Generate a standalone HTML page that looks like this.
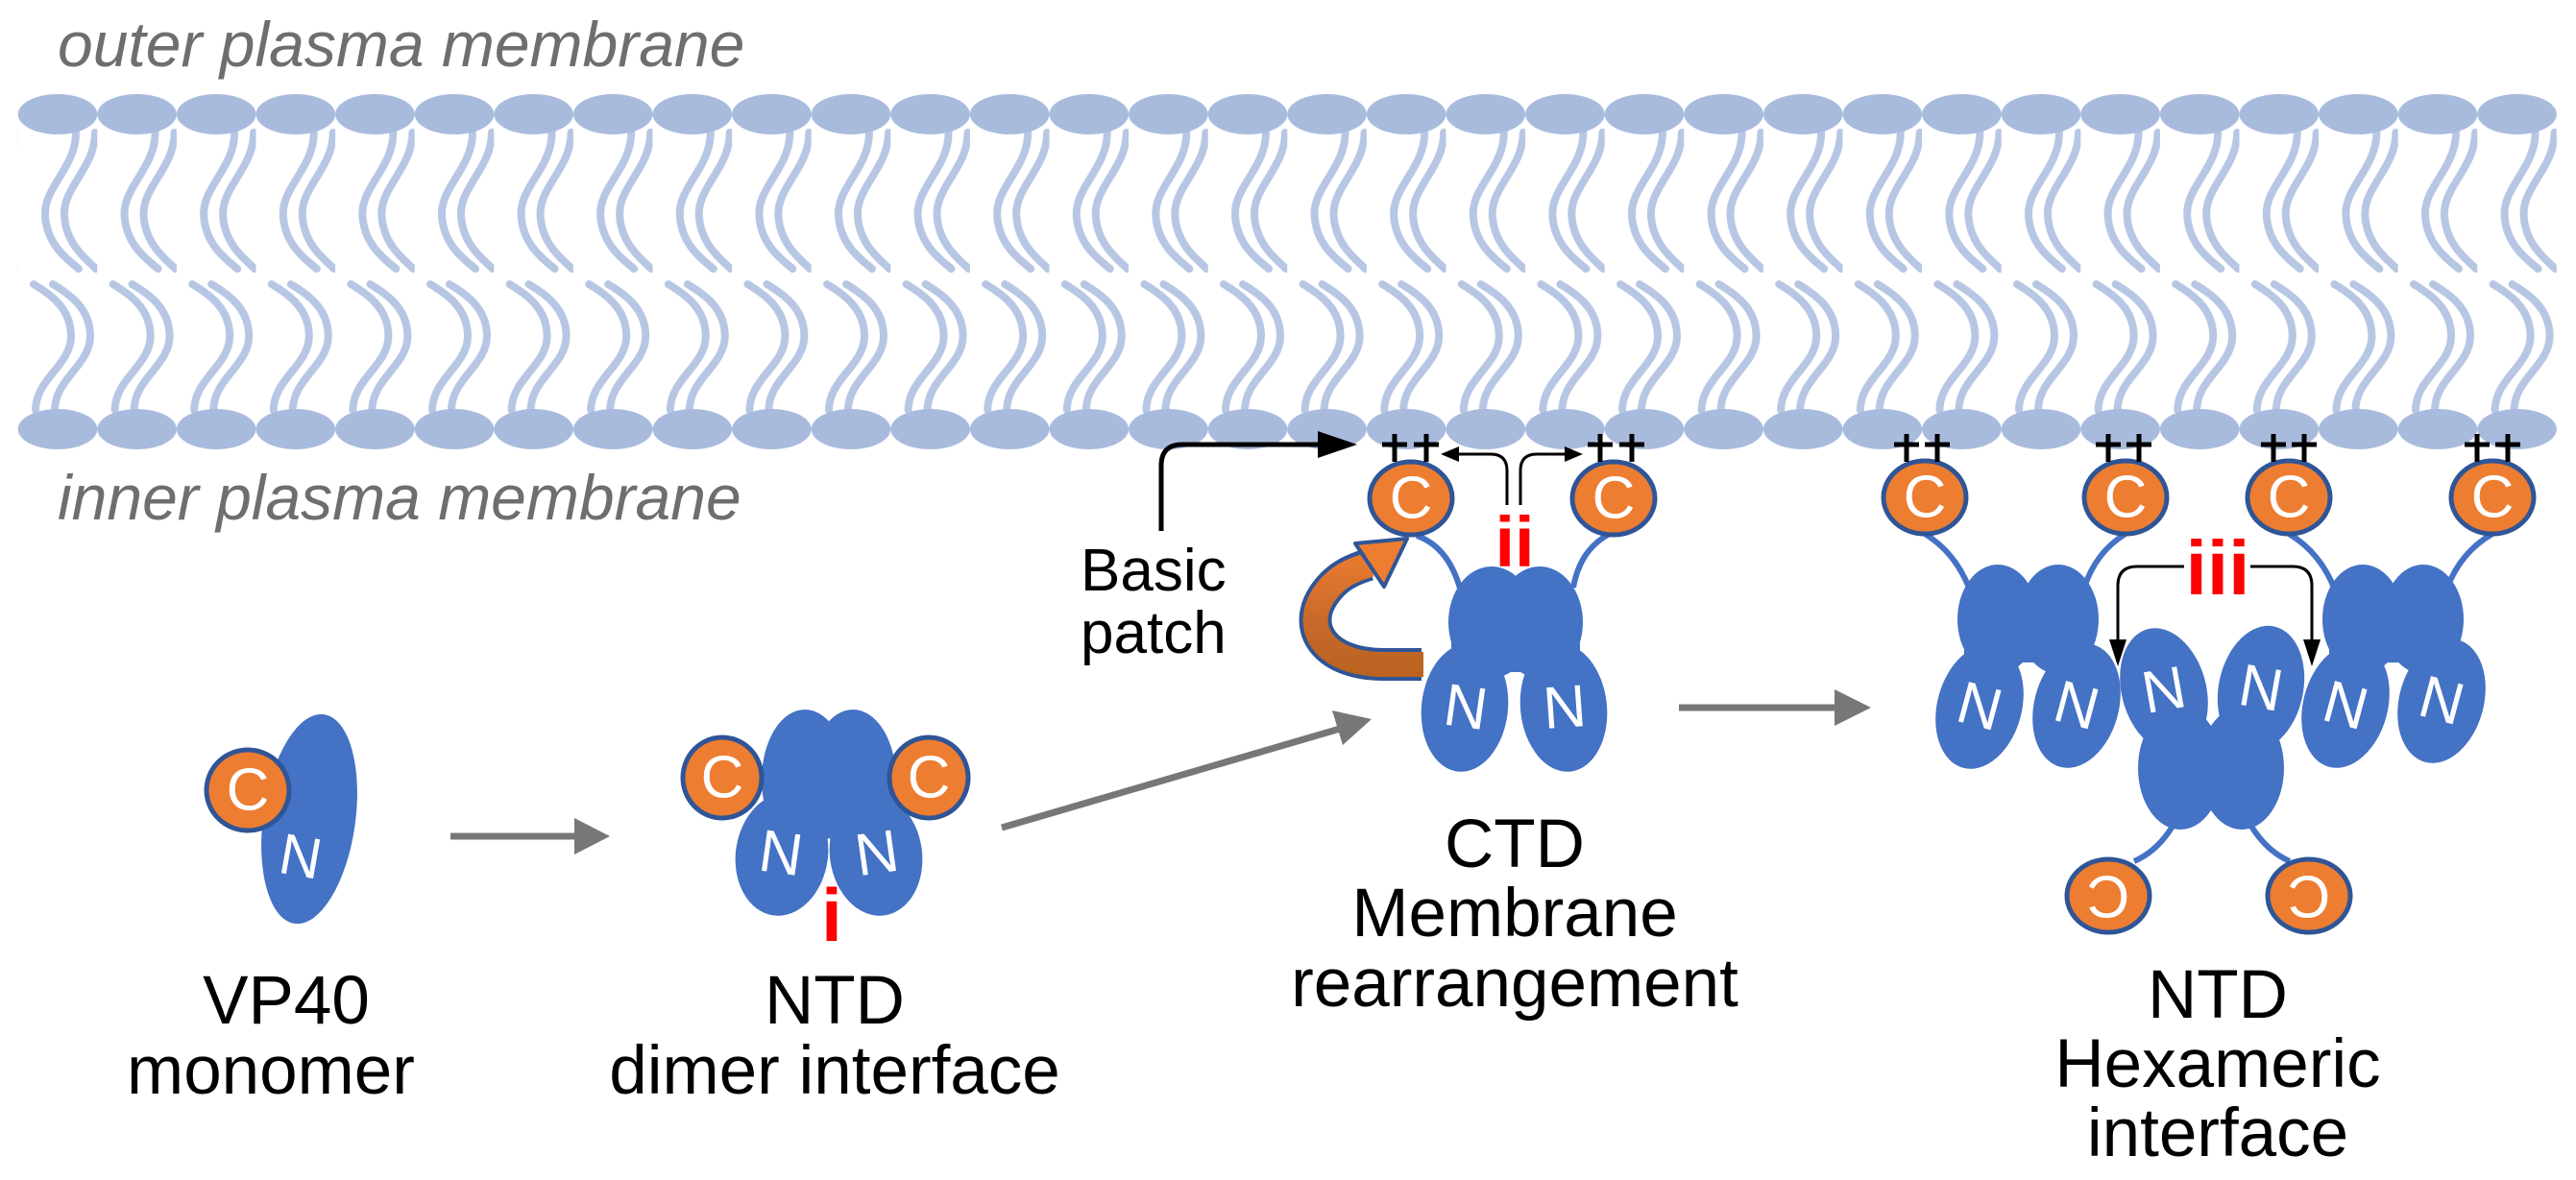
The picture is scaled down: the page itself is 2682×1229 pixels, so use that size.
<!DOCTYPE html>
<html><head><meta charset="utf-8">
<style>
html,body{margin:0;padding:0;background:#fff;}
svg{display:block;}
text{font-family:"Liberation Sans",Arial,sans-serif;}
</style></head>
<body>
<svg width="2682" height="1229" viewBox="0 0 2682 1229" xmlns="http://www.w3.org/2000/svg">
<defs>
 <linearGradient id="og" x1="0" y1="710" x2="0" y2="570" gradientUnits="userSpaceOnUse">
  <stop offset="0" stop-color="#b8621f"/><stop offset="0.45" stop-color="#c8692a"/><stop offset="1" stop-color="#ed7d31"/>
 </linearGradient>
 <pattern id="lip" patternUnits="userSpaceOnUse" x="18.7" y="0" width="82.6" height="500">
  <g fill="none" stroke="#b7c6e3" stroke-width="8" stroke-linecap="round" transform="translate(41.3,0)">
   <path d="M19,138 C19,175 -15,195 -13,225 C-11,255 10,270 22,280"/>
   <path d="M39,138 C39,175 5,195 7,225 C9,255 30,270 40,280"/>
   <path d="M-23,427 C-23,395 14,380 14,350 C14,320 -10,305 -25,296"/>
   <path d="M-3,427 C-3,395 34,380 34,350 C34,320 10,305 -5,296"/>
  </g>
  <ellipse cx="41.3" cy="119" rx="41.3" ry="21" fill="#a9bbdd"/>
  <ellipse cx="41.3" cy="447" rx="41.3" ry="21" fill="#a9bbdd"/>
 </pattern>
</defs>

<!-- membrane -->
<rect x="18.7" y="90" width="2643.2" height="390" fill="url(#lip)"/>

<text x="60" y="69" font-size="66" font-style="italic" fill="#6e6e6e">outer plasma membrane</text>
<text x="60" y="541" font-size="66" font-style="italic" fill="#6e6e6e">inner plasma membrane</text>

<!-- gray arrows -->
<g stroke="#777" stroke-width="7" fill="#777">
 <line x1="469" y1="871" x2="600" y2="871"/>
 <polygon points="635,871 598,852 598,890" stroke="none"/>
 <line x1="1043" y1="862" x2="1395" y2="759"/>
 <polygon points="1428,749 1387,740 1398,776" stroke="none"/>
 <line x1="1748" y1="737" x2="1912" y2="737"/>
 <polygon points="1948,737 1910,718 1910,756" stroke="none"/>
</g>

<!-- monomer -->
<ellipse cx="322" cy="853" rx="48" ry="110" transform="rotate(8 322 853)" fill="#4472c4"/>
<ellipse cx="258" cy="823" rx="43" ry="42" fill="#ed7d31" stroke="#2f5597" stroke-width="5"/>
<text x="258" y="823" font-size="62" fill="#fff" text-anchor="middle" dominant-baseline="central">C</text>
<text x="313" y="892" font-size="60" fill="#fff" text-anchor="middle" dominant-baseline="central" transform="rotate(10 313 892)">N</text>

<!-- dimer -->
<g fill="#4472c4">
 <ellipse cx="838" cy="812" rx="45" ry="73"/>
 <ellipse cx="888" cy="812" rx="45" ry="73"/>
 <ellipse cx="814" cy="890" rx="48" ry="64" transform="rotate(8 814 890)"/>
 <ellipse cx="912" cy="890" rx="48" ry="64" transform="rotate(-8 912 890)"/>
</g>
<ellipse cx="752" cy="810" rx="41" ry="42" fill="#ed7d31" stroke="#2f5597" stroke-width="5"/>
<ellipse cx="967" cy="810" rx="41" ry="42" fill="#ed7d31" stroke="#2f5597" stroke-width="5"/>
<g font-size="62" fill="#fff" text-anchor="middle" dominant-baseline="central">
 <text x="752" y="810">C</text><text x="967" y="810">C</text>
 <text x="813" y="889" transform="rotate(8 813 889)">N</text>
 <text x="913" y="889" transform="rotate(-8 913 889)">N</text>
</g>
<text x="866" y="980" font-size="78" font-weight="bold" fill="#ff0000" text-anchor="middle">i</text>

<!-- CTD stage -->
<g fill="none" stroke="#4472c4" stroke-width="6">
 <path d="M1475,558 Q1510,570 1522,620"/>
 <path d="M1676,556 Q1645,572 1638,612"/>
</g>
<g fill="#4472c4">
 <ellipse cx="1553" cy="648" rx="45" ry="58"/>
 <ellipse cx="1603" cy="648" rx="45" ry="58"/>
 <rect x="1511" y="640" width="134" height="60"/>
 <ellipse cx="1525" cy="737" rx="45" ry="67" transform="rotate(6 1525 737)"/>
 <ellipse cx="1628" cy="737" rx="45" ry="67" transform="rotate(-6 1628 737)"/>
</g>
<ellipse cx="1469" cy="519" rx="43" ry="38" fill="#ed7d31" stroke="#2f5597" stroke-width="5"/>
<ellipse cx="1680" cy="519" rx="43" ry="38" fill="#ed7d31" stroke="#2f5597" stroke-width="5"/>
<g font-size="62" fill="#fff" text-anchor="middle" dominant-baseline="central">
 <text x="1469" y="519">C</text><text x="1680" y="519">C</text>
 <text x="1526" y="737" transform="rotate(8 1526 737)">N</text>
 <text x="1629" y="737" transform="rotate(-4 1629 737)">N</text>
</g>
<!-- orange curved arrow -->
<path d="M1480,692 L1440,692 C1380,692 1355,655 1378,620 C1390,602 1405,594 1425,588" fill="none" stroke="#2f5597" stroke-width="34"/>
<path d="M1482,692 L1440,692 C1380,692 1355,655 1378,620 C1390,602 1405,594 1427,588" fill="none" stroke="url(#og)" stroke-width="26"/>
<polygon points="1465,561 1411,566 1441,611" fill="#ed7d31" stroke="#2f5597" stroke-width="4" stroke-linejoin="round"/>
<text x="1577" y="590" font-size="74" font-weight="bold" fill="#ff0000" text-anchor="middle">ii</text>

<!-- black arrows -->
<g fill="none" stroke="#000" stroke-width="5">
 <path d="M1209,553 V485 Q1209,463 1231,463 H1378"/>
</g>
<polygon points="1413,463 1372,449 1372,477" fill="#000"/>
<g fill="none" stroke="#000" stroke-width="3">
 <path d="M1569,526 V490 Q1569,473 1552,473 H1516"/>
 <path d="M1583,526 V490 Q1583,473 1600,473 H1632"/>
 <path d="M2274,590 H2225 Q2205,590 2205,610 V668"/>
 <path d="M2343,590 H2387 Q2407,590 2407,610 V668"/>
</g>
<polygon points="1500,473 1519,465 1519,481" fill="#000"/>
<polygon points="1648,473 1629,465 1629,481" fill="#000"/>
<polygon points="2205,694 2196,666 2214,666" fill="#000"/>
<polygon points="2407,694 2398,666 2416,666" fill="#000"/>

<text x="1125" y="615" font-size="62">Basic</text>
<text x="1125" y="680" font-size="62">patch</text>

<!-- hexamer -->
<g fill="none" stroke="#4472c4" stroke-width="6">
 <path d="M2004,556 Q2035,575 2050,612"/>
 <path d="M2213,556 Q2182,575 2170,612"/>
 <path d="M2383,556 Q2415,575 2430,612"/>
 <path d="M2595,556 Q2562,575 2548,612"/>
 <path d="M2268,850 Q2250,885 2222,897"/>
 <path d="M2338,850 Q2356,885 2384,897"/>
</g>
<g fill="#4472c4">
 <ellipse cx="2080" cy="645" rx="42" ry="57"/>
 <ellipse cx="2143" cy="645" rx="42" ry="57"/>
 <ellipse cx="2460" cy="645" rx="42" ry="57"/>
 <ellipse cx="2523" cy="645" rx="42" ry="57"/>
 <rect x="2045" y="640" width="134" height="50"/>
 <rect x="2425" y="640" width="134" height="50"/>
 <ellipse cx="2270" cy="800" rx="44" ry="64"/>
 <ellipse cx="2334" cy="800" rx="44" ry="64"/>
 <ellipse cx="2061" cy="736" rx="44" ry="66" transform="rotate(15 2061 736)"/>
 <ellipse cx="2162" cy="735" rx="44" ry="66" transform="rotate(15 2162 735)"/>
 <ellipse cx="2253" cy="719" rx="44" ry="66" transform="rotate(-15 2253 719)"/>
 <ellipse cx="2354" cy="717" rx="44" ry="66" transform="rotate(12 2354 717)"/>
 <ellipse cx="2442" cy="735" rx="44" ry="66" transform="rotate(15 2442 735)"/>
 <ellipse cx="2542" cy="730" rx="44" ry="66" transform="rotate(15 2542 730)"/>
</g>
<g fill="#ed7d31" stroke="#2f5597" stroke-width="5">
 <ellipse cx="2004" cy="518" rx="43" ry="38"/>
 <ellipse cx="2213" cy="518" rx="43" ry="38"/>
 <ellipse cx="2383" cy="518" rx="43" ry="38"/>
 <ellipse cx="2595" cy="518" rx="43" ry="38"/>
 <ellipse cx="2195" cy="933" rx="43" ry="38"/>
 <ellipse cx="2404" cy="933" rx="43" ry="38"/>
</g>
<g font-size="62" fill="#fff" text-anchor="middle" dominant-baseline="central">
 <text x="2004" y="518">C</text><text x="2213" y="518">C</text>
 <text x="2383" y="518">C</text><text x="2595" y="518">C</text>
 <text x="2195" y="933" transform="rotate(180 2195 933)">C</text>
 <text x="2404" y="933" transform="rotate(180 2404 933)">C</text>
 <text x="2061" y="736" transform="rotate(15 2061 736)">N</text>
 <text x="2162" y="735" transform="rotate(15 2162 735)">N</text>
 <text x="2253" y="719" transform="rotate(-10 2253 719)">N</text>
 <text x="2354" y="717" transform="rotate(10 2354 717)">N</text>
 <text x="2442" y="735" transform="rotate(15 2442 735)">N</text>
 <text x="2542" y="730" transform="rotate(15 2542 730)">N</text>
</g>
<text x="2309" y="619" font-size="80" font-weight="bold" fill="#ff0000" text-anchor="middle">iii</text>

<!-- plus signs -->
<path stroke="#000" stroke-width="5" fill="none" d="
M1439,463H1465M1452,452V481 M1472,463H1498M1485,452V481
M1653,463H1679M1666,452V481 M1686,463H1712M1699,452V481
M1972,463H1998M1985,452V481 M2004,463H2030M2017,452V481
M2182,463H2208M2195,452V481 M2214,463H2240M2227,452V481
M2354,463H2380M2367,452V481 M2386,463H2412M2399,452V481
M2566,463H2592M2579,452V481 M2598,463H2624M2611,452V481"/>

<!-- labels -->
<g font-size="71" fill="#000" text-anchor="middle">
 <text x="298" y="1066">VP40</text>
 <text x="282" y="1139">monomer</text>
 <text x="869" y="1066">NTD</text>
 <text x="869" y="1139">dimer interface</text>
 <text x="1577" y="903">CTD</text>
 <text x="1577" y="975">Membrane</text>
 <text x="1577" y="1048">rearrangement</text>
 <text x="2309" y="1060">NTD</text>
 <text x="2309" y="1132">Hexameric</text>
 <text x="2309" y="1204">interface</text>
</g>
</svg>
</body></html>
